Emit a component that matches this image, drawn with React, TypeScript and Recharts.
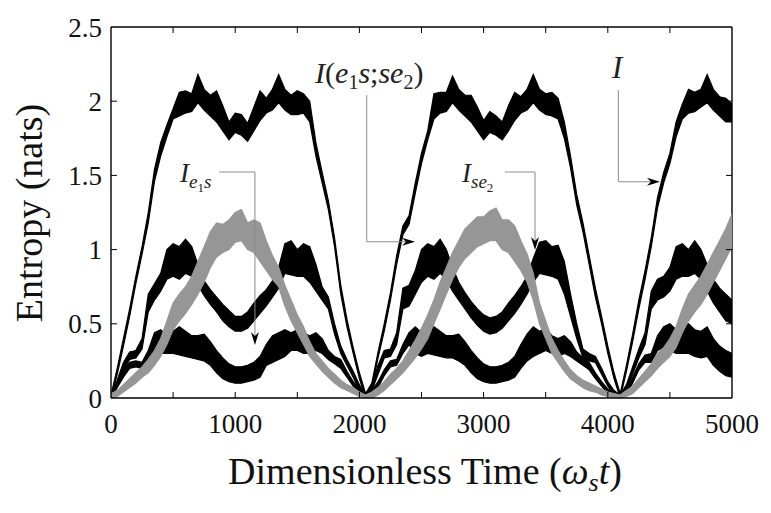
import { ComposedChart, Area, XAxis, YAxis, CartesianGrid, ReferenceLine, ReferenceDot } from 'recharts'

// time samples (ω_s t), every 50
const times = [
  0, 50, 100, 150, 200, 250, 300, 350, 400, 450,
  500, 550, 600, 650, 700, 750, 800, 850, 900, 950,
  1000, 1050, 1100, 1150, 1200, 1250, 1300, 1350, 1400, 1450,
  1500, 1550, 1600, 1650, 1700, 1750, 1800, 1850, 1900, 1950,
  2000, 2050, 2100, 2150, 2200, 2250, 2300, 2350, 2400, 2450,
  2500, 2550, 2600, 2650, 2700, 2750, 2800, 2850, 2900, 2950,
  3000, 3050, 3100, 3150, 3200, 3250, 3300, 3350, 3400, 3450,
  3500, 3550, 3600, 3650, 3700, 3750, 3800, 3850, 3900, 3950,
  4000, 4050, 4100, 4150, 4200, 4250, 4300, 4350, 4400, 4450,
  4500, 4550, 4600, 4650, 4700, 4750, 4800, 4850, 4900, 4950,
  5000,
]

// each entry is the [low, high] envelope of the fast oscillation
const totalI: [number, number][] = [
  [0, 0.02], [0.16, 0.2], [0.35, 0.4], [0.55, 0.6], [0.77, 0.82], [0.97, 1.02], [1.18, 1.25], [1.46, 1.54], [1.63, 1.72], [1.76, 1.84],
  [1.88, 1.95], [1.9, 2.06], [1.92, 2.07], [1.93, 2.05], [1.99, 2.18], [1.94, 2.08], [1.9, 2.04], [1.86, 2.07], [1.8, 1.97], [1.74, 1.86],
  [1.79, 1.92], [1.77, 1.91], [1.73, 1.85], [1.8, 1.96], [1.87, 2.07], [1.92, 2.02], [1.94, 2.08], [1.99, 2.18], [1.94, 2.08], [1.91, 2.04],
  [1.91, 2.07], [1.92, 2.05], [1.86, 2.0], [1.63, 1.72], [1.45, 1.52], [1.27, 1.33], [1.02, 1.08], [0.7, 0.76], [0.48, 0.53], [0.3, 0.34],
  [0.13, 0.17], [0, 0.03], [0.06, 0.1], [0.27, 0.31], [0.45, 0.5], [0.66, 0.71], [0.9, 0.96], [1.1, 1.16], [1.17, 1.23], [1.38, 1.45],
  [1.58, 1.65], [1.74, 1.8], [1.88, 2.05], [1.92, 2.06], [1.93, 2.06], [1.99, 2.17], [1.94, 2.08], [1.9, 2.04], [1.86, 2.04], [1.8, 1.96],
  [1.74, 1.87], [1.79, 1.93], [1.77, 1.9], [1.74, 1.86], [1.8, 1.97], [1.87, 2.06], [1.92, 2.03], [1.94, 2.08], [1.99, 2.18], [1.94, 2.08],
  [1.91, 2.05], [1.9, 2.06], [1.88, 2.02], [1.75, 1.86], [1.55, 1.63], [1.3, 1.37], [1.12, 1.18], [0.9, 0.96], [0.68, 0.74], [0.5, 0.55],
  [0.3, 0.35], [0.13, 0.17], [0, 0.03], [0.18, 0.22], [0.38, 0.43], [0.6, 0.66], [0.8, 0.86], [1.02, 1.08], [1.28, 1.35], [1.45, 1.52],
  [1.58, 1.65], [1.76, 1.86], [1.88, 1.98], [1.92, 2.08], [1.93, 2.06], [1.96, 2.08], [1.99, 2.18], [1.94, 2.08], [1.9, 2.03], [1.86, 2.02],
  [1.86, 1.98],
]

const mutualI: [number, number][] = [
  [0, 0.02], [0.08, 0.12], [0.18, 0.24], [0.26, 0.31], [0.27, 0.32], [0.33, 0.4], [0.58, 0.7], [0.66, 0.77], [0.72, 0.84], [0.8, 1.0],
  [0.82, 1.04], [0.8, 1.02], [0.84, 1.07], [0.82, 1.02], [0.76, 0.9], [0.69, 0.79], [0.63, 0.73], [0.58, 0.68], [0.52, 0.63], [0.48, 0.59],
  [0.45, 0.55], [0.45, 0.55], [0.47, 0.58], [0.52, 0.64], [0.57, 0.69], [0.62, 0.73], [0.68, 0.79], [0.74, 0.88], [0.84, 1.04], [0.83, 1.06],
  [0.82, 1.0], [0.82, 1.04], [0.78, 1.02], [0.72, 0.9], [0.66, 0.75], [0.6, 0.68], [0.43, 0.5], [0.3, 0.35], [0.22, 0.26], [0.14, 0.18],
  [0.05, 0.09], [0, 0.02], [0.05, 0.09], [0.16, 0.22], [0.27, 0.32], [0.28, 0.33], [0.36, 0.44], [0.6, 0.74], [0.62, 0.76], [0.7, 0.86],
  [0.78, 1.0], [0.82, 1.04], [0.8, 1.02], [0.84, 1.07], [0.8, 1.0], [0.72, 0.88], [0.66, 0.78], [0.6, 0.71], [0.54, 0.65], [0.49, 0.6],
  [0.45, 0.56], [0.43, 0.54], [0.44, 0.55], [0.47, 0.58], [0.52, 0.64], [0.57, 0.69], [0.63, 0.75], [0.7, 0.82], [0.78, 0.94], [0.84, 1.05],
  [0.83, 1.06], [0.82, 1.02], [0.8, 1.03], [0.7, 0.92], [0.55, 0.7], [0.4, 0.5], [0.27, 0.33], [0.25, 0.3], [0.24, 0.28], [0.16, 0.2],
  [0.08, 0.11], [0.02, 0.05], [0, 0.02], [0.05, 0.09], [0.16, 0.21], [0.27, 0.33], [0.36, 0.44], [0.6, 0.72], [0.66, 0.8], [0.68, 0.82],
  [0.72, 0.88], [0.8, 1.02], [0.82, 1.04], [0.82, 1.0], [0.84, 1.06], [0.8, 1.0], [0.72, 0.9], [0.64, 0.8], [0.58, 0.74], [0.52, 0.7],
  [0.5, 0.66],
]

const infoE1s: [number, number][] = [
  [0, 0.02], [0.07, 0.1], [0.14, 0.18], [0.2, 0.24], [0.21, 0.25], [0.2, 0.24], [0.26, 0.32], [0.32, 0.44], [0.3, 0.46], [0.3, 0.42],
  [0.3, 0.45], [0.29, 0.48], [0.28, 0.45], [0.27, 0.42], [0.26, 0.42], [0.25, 0.43], [0.22, 0.38], [0.17, 0.32], [0.13, 0.27], [0.11, 0.23],
  [0.1, 0.21], [0.1, 0.21], [0.11, 0.22], [0.12, 0.24], [0.14, 0.28], [0.22, 0.36], [0.24, 0.42], [0.26, 0.44], [0.28, 0.46], [0.32, 0.44],
  [0.32, 0.46], [0.3, 0.44], [0.3, 0.42], [0.32, 0.44], [0.3, 0.4], [0.26, 0.32], [0.23, 0.28], [0.2, 0.26], [0.14, 0.18], [0.08, 0.11],
  [0.03, 0.06], [0, 0.02], [0.02, 0.05], [0.07, 0.11], [0.15, 0.19], [0.21, 0.25], [0.22, 0.26], [0.3, 0.36], [0.36, 0.44], [0.3, 0.48],
  [0.28, 0.44], [0.3, 0.46], [0.29, 0.48], [0.28, 0.45], [0.27, 0.42], [0.27, 0.42], [0.25, 0.43], [0.22, 0.38], [0.17, 0.32], [0.13, 0.27],
  [0.11, 0.23], [0.1, 0.21], [0.1, 0.21], [0.11, 0.22], [0.12, 0.24], [0.14, 0.28], [0.2, 0.36], [0.25, 0.43], [0.28, 0.48], [0.3, 0.45],
  [0.32, 0.47], [0.3, 0.42], [0.28, 0.4], [0.3, 0.42], [0.28, 0.38], [0.25, 0.31], [0.22, 0.27], [0.19, 0.24], [0.13, 0.17], [0.08, 0.11],
  [0.03, 0.06], [0.01, 0.03], [0, 0.02], [0.03, 0.06], [0.1, 0.14], [0.19, 0.23], [0.24, 0.29], [0.24, 0.3], [0.32, 0.42], [0.34, 0.48],
  [0.32, 0.5], [0.3, 0.46], [0.3, 0.48], [0.3, 0.5], [0.28, 0.46], [0.27, 0.45], [0.28, 0.48], [0.22, 0.4], [0.18, 0.35], [0.15, 0.32],
  [0.14, 0.3],
]

const infoSe2: [number, number][] = [
  [0, 0.03], [0.01, 0.05], [0.04, 0.09], [0.07, 0.13], [0.1, 0.17], [0.14, 0.21], [0.17, 0.26], [0.22, 0.32], [0.28, 0.4], [0.36, 0.52],
  [0.46, 0.64], [0.52, 0.7], [0.57, 0.75], [0.63, 0.82], [0.7, 0.92], [0.78, 1.02], [0.88, 1.12], [0.95, 1.18], [0.98, 1.17], [1.0, 1.2],
  [1.05, 1.25], [1.06, 1.27], [1.0, 1.18], [0.98, 1.2], [0.92, 1.18], [0.86, 1.06], [0.8, 0.96], [0.75, 0.88], [0.62, 0.76], [0.52, 0.66],
  [0.44, 0.56], [0.36, 0.48], [0.28, 0.38], [0.23, 0.3], [0.18, 0.25], [0.14, 0.2], [0.1, 0.16], [0.07, 0.12], [0.05, 0.09], [0.03, 0.07],
  [0.01, 0.04], [0, 0.02], [0, 0.04], [0.02, 0.07], [0.05, 0.11], [0.09, 0.16], [0.13, 0.2], [0.17, 0.25], [0.22, 0.32], [0.27, 0.39],
  [0.33, 0.47], [0.4, 0.56], [0.5, 0.66], [0.6, 0.78], [0.7, 0.88], [0.8, 0.98], [0.88, 1.06], [0.94, 1.14], [0.98, 1.18], [1.02, 1.22],
  [1.04, 1.22], [1.06, 1.26], [1.06, 1.28], [1.0, 1.2], [0.98, 1.2], [0.92, 1.16], [0.86, 1.06], [0.78, 0.97], [0.66, 0.84], [0.5, 0.64],
  [0.4, 0.52], [0.3, 0.4], [0.24, 0.32], [0.18, 0.25], [0.13, 0.19], [0.1, 0.15], [0.07, 0.12], [0.05, 0.1], [0.04, 0.08], [0.02, 0.06],
  [0.01, 0.04], [0, 0.03], [0, 0.02], [0.01, 0.05], [0.03, 0.08], [0.07, 0.13], [0.11, 0.18], [0.15, 0.23], [0.2, 0.3], [0.24, 0.34],
  [0.28, 0.4], [0.34, 0.48], [0.44, 0.6], [0.52, 0.7], [0.58, 0.76], [0.63, 0.82], [0.7, 0.9], [0.78, 0.98], [0.86, 1.06], [0.94, 1.14],
  [1.02, 1.24],
]

const xTicks = [0, 500, 1000, 1500, 2000, 2500, 3000, 3500, 4000, 4500, 5000]
const yTicks = [0, 0.5, 1, 1.5, 2, 2.5]

const rows = times.map((t, i) => ({
  t,
  total: totalI[i],
  mutual: mutualI[i],
  e1s: infoE1s[i],
  se2: infoSe2[i],
}))

const X_MAX = 5000
const Y_MAX = 2.5

// layout
const CHART_W = 763
const CHART_H = 505
const MARGIN = { top: 19, right: 39, bottom: 0, left: 0 }
const Y_AXIS_W = 103
const X_AXIS_H = 115
const PLOT_L = MARGIN.left + Y_AXIS_W
const PLOT_T = MARGIN.top
const PLOT_W = CHART_W - MARGIN.right - PLOT_L
const PLOT_H = CHART_H - PLOT_T - X_AXIS_H
const TICK = 6

const SERIF = "'Liberation Serif', 'DejaVu Serif', serif"
const LEADER = '#8c8c8c'
const GREY = '#969696'

function plainLeader(p: any) {
  return <line x1={p.x1} y1={p.y1} x2={p.x2} y2={p.y2} stroke={LEADER} strokeWidth={1} />
}

function arrowLeader(p: any) {
  const { x1, y1, x2, y2 } = p
  const len = Math.hypot(x2 - x1, y2 - y1) || 1
  const ux = (x2 - x1) / len
  const uy = (y2 - y1) / len
  const L = 13
  const W = 4
  const bx = x2 - ux * L
  const by = y2 - uy * L
  const nx = x2 - ux * L * 0.7
  const ny = y2 - uy * L * 0.7
  const head = `M${x2},${y2} L${bx - uy * W},${by + ux * W} L${nx},${ny} L${bx + uy * W},${by - ux * W} Z`
  return (
    <g>
      <line x1={x1} y1={y1} x2={nx} y2={ny} stroke={LEADER} strokeWidth={1} />
      <path d={head} fill="#000" stroke="none" />
    </g>
  )
}

const labelE1s = (p: any) => (
  <text x={p.cx} y={p.cy} fontFamily={SERIF} fontSize={27} fill="#222">
    <tspan fontStyle="italic">I</tspan>
    <tspan fontStyle="italic" fontSize={19} dy={6}>e</tspan>
    <tspan fontSize={13} dy={4}>1</tspan>
    <tspan fontStyle="italic" fontSize={19} dy={-4}>s</tspan>
  </text>
)

const labelSe2 = (p: any) => (
  <text x={p.cx} y={p.cy} fontFamily={SERIF} fontSize={27} fill="#222">
    <tspan fontStyle="italic">I</tspan>
    <tspan fontStyle="italic" fontSize={19} dy={6}>se</tspan>
    <tspan fontSize={13} dy={4}>2</tspan>
  </text>
)

const labelMutual = (p: any) => (
  <text x={p.cx} y={p.cy} fontFamily={SERIF} fontSize={30} fill="#222">
    <tspan fontStyle="italic">I</tspan>
    <tspan>(</tspan>
    <tspan fontStyle="italic">e</tspan>
    <tspan fontSize={20} dy={6}>1</tspan>
    <tspan fontStyle="italic" dy={-6}>s</tspan>
    <tspan>;</tspan>
    <tspan fontStyle="italic">se</tspan>
    <tspan fontSize={20} dy={6}>2</tspan>
    <tspan dy={-6}>)</tspan>
  </text>
)

const labelTotal = (p: any) => (
  <text x={p.cx} y={p.cy} fontFamily={SERIF} fontSize={31} fontStyle="italic" fill="#222">
    I
  </text>
)

// x title, plus the inward ticks on all four sides
const xTitle = () => {
  const bottom = PLOT_T + PLOT_H
  const right = PLOT_L + PLOT_W
  const xs = xTicks.slice(1, -1).map((v) => PLOT_L + (v / X_MAX) * PLOT_W)
  const ys = yTicks.slice(1, -1).map((v) => bottom - (v / Y_MAX) * PLOT_H)
  return (
    <g>
      {xs.map((x) => (
        <g key={`x${x}`}>
          <line x1={x} x2={x} y1={bottom} y2={bottom - TICK} stroke="#000" strokeWidth={1} />
          <line x1={x} x2={x} y1={PLOT_T} y2={PLOT_T + TICK} stroke="#000" strokeWidth={1} />
        </g>
      ))}
      {ys.map((y) => (
        <g key={`y${y}`}>
          <line x1={PLOT_L} x2={PLOT_L + TICK} y1={y} y2={y} stroke="#000" strokeWidth={1} />
          <line x1={right} x2={right - TICK} y1={y} y2={y} stroke="#000" strokeWidth={1} />
        </g>
      ))}
      <text x={417} y={476} textAnchor="middle" fontFamily={SERIF} fontSize={38} fill="#111">
        <tspan>Dimensionless Time (</tspan>
        <tspan fontStyle="italic">ω</tspan>
        <tspan fontStyle="italic" fontSize={26} dy={7}>s</tspan>
        <tspan fontStyle="italic" dy={-7}>t</tspan>
        <tspan>)</tspan>
      </text>
    </g>
  )
}

const yTitle = () => (
  <text
    x={34}
    y={205}
    transform="rotate(-90, 34, 205)"
    textAnchor="middle"
    fontFamily={SERIF}
    fontSize={38}
    fill="#111"
  >
    Entropy (nats)
  </text>
)

const tickStyle = { fill: '#111', fontSize: 27, fontFamily: SERIF }

export default function App() {
  return (
    <ComposedChart width={CHART_W} height={CHART_H} data={rows} margin={MARGIN}>
      {/* top and right edges of the frame */}
      <CartesianGrid
        xAxisId="b"
        yAxisId="l"
        horizontalValues={[Y_MAX]}
        verticalValues={[X_MAX]}
        stroke="#000"
        strokeWidth={1.4}
        strokeDasharray="0"
      />
      <XAxis
        xAxisId="b"
        dataKey="t"
        type="number"
        domain={[0, X_MAX]}
        ticks={xTicks}
        interval={0}
        tickFormatter={(v) => (v % 1000 === 0 ? String(v) : '')}
        tick={tickStyle}
        tickLine={false}
        tickSize={0}
        tickMargin={16}
        height={X_AXIS_H}
        stroke="#000"
        strokeWidth={1.4}
        allowDataOverflow
        label={{ content: xTitle }}
      />
      <YAxis
        yAxisId="l"
        type="number"
        domain={[0, Y_MAX]}
        ticks={yTicks}
        interval={0}
        tick={tickStyle}
        tickLine={false}
        tickSize={0}
        tickMargin={9}
        width={Y_AXIS_W}
        stroke="#000"
        strokeWidth={1.4}
        allowDataOverflow
        label={{ content: yTitle }}
      />

      <Area xAxisId="b" yAxisId="l" type="linear" dataKey="e1s" stroke="#000" strokeWidth={1.2} fill="#000" fillOpacity={1} dot={false} activeDot={false} isAnimationActive={false} />
      <Area xAxisId="b" yAxisId="l" type="linear" dataKey="mutual" stroke="#000" strokeWidth={1.2} fill="#000" fillOpacity={1} dot={false} activeDot={false} isAnimationActive={false} />
      <Area xAxisId="b" yAxisId="l" type="linear" dataKey="total" stroke="#000" strokeWidth={1.2} fill="#000" fillOpacity={1} dot={false} activeDot={false} isAnimationActive={false} />
      <Area xAxisId="b" yAxisId="l" type="linear" dataKey="se2" stroke={GREY} strokeWidth={1.2} fill={GREY} fillOpacity={1} dot={false} activeDot={false} isAnimationActive={false} />

      {/* leader lines */}
      <ReferenceLine xAxisId="b" yAxisId="l" segment={[{ x: 870, y: 1.523 }, { x: 1159, y: 1.523 }]} shape={plainLeader} />
      <ReferenceLine xAxisId="b" yAxisId="l" segment={[{ x: 1159, y: 1.523 }, { x: 1159, y: 0.357 }]} shape={arrowLeader} />
      <ReferenceLine xAxisId="b" yAxisId="l" segment={[{ x: 2059, y: 2.04 }, { x: 2059, y: 1.053 }]} shape={plainLeader} />
      <ReferenceLine xAxisId="b" yAxisId="l" segment={[{ x: 2059, y: 1.053 }, { x: 2448, y: 1.053 }]} shape={arrowLeader} />
      <ReferenceLine xAxisId="b" yAxisId="l" segment={[{ x: 3172, y: 1.523 }, { x: 3414, y: 1.523 }]} shape={plainLeader} />
      <ReferenceLine xAxisId="b" yAxisId="l" segment={[{ x: 3414, y: 1.523 }, { x: 3414, y: 0.997 }]} shape={arrowLeader} />
      <ReferenceLine xAxisId="b" yAxisId="l" segment={[{ x: 4085, y: 2.075 }, { x: 4085, y: 1.457 }]} shape={plainLeader} />
      <ReferenceLine xAxisId="b" yAxisId="l" segment={[{ x: 4085, y: 1.457 }, { x: 4420, y: 1.457 }]} shape={arrowLeader} />

      {/* curve names */}
      <ReferenceDot xAxisId="b" yAxisId="l" x={556} y={1.455} r={0} shape={labelE1s} />
      <ReferenceDot xAxisId="b" yAxisId="l" x={1643} y={2.12} r={0} shape={labelMutual} />
      <ReferenceDot xAxisId="b" yAxisId="l" x={2826} y={1.455} r={0} shape={labelSe2} />
      <ReferenceDot xAxisId="b" yAxisId="l" x={4034} y={2.156} r={0} shape={labelTotal} />
    </ComposedChart>
  )
}
